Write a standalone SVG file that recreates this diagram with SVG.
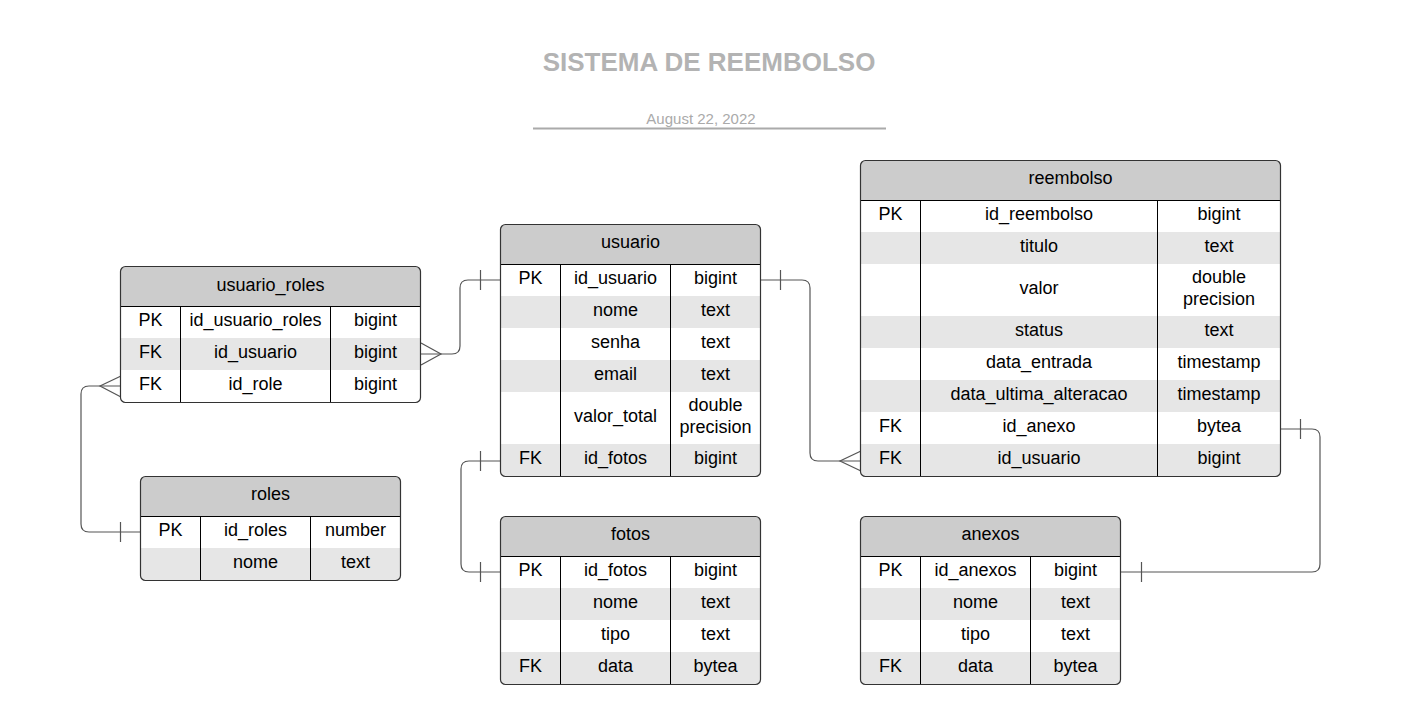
<svg xmlns="http://www.w3.org/2000/svg" width="1401" height="720" viewBox="0 0 1401 720">
<style>
text{font-family:"Liberation Sans",Arial,sans-serif;font-size:18px;fill:#000;text-anchor:middle}
.title{font-size:26px;font-weight:bold;fill:#b3b3b3}
.date{font-size:15px;fill:#aaaaaa}
.hdr{fill:#cccccc}
.alt{fill:#e6e6e6}
.bg{fill:#ffffff}
.grid{stroke:#000;stroke-width:1;fill:none}
.frame{stroke:#333;stroke-width:1.2;fill:none}
.conn path{stroke:#555;stroke-width:1.2;fill:none}
</style>
<defs>
<clipPath id="c-ur"><rect x="120.5" y="266.5" width="300" height="136" rx="5"/></clipPath>
<clipPath id="c-us"><rect x="500.5" y="224.5" width="260" height="252" rx="5"/></clipPath>
<clipPath id="c-re"><rect x="860.5" y="160.5" width="420" height="316" rx="5"/></clipPath>
<clipPath id="c-ro"><rect x="140.5" y="476.5" width="260" height="104" rx="5"/></clipPath>
<clipPath id="c-fo"><rect x="500.5" y="516.5" width="260" height="168" rx="5"/></clipPath>
<clipPath id="c-an"><rect x="860.5" y="516.5" width="260" height="168" rx="5"/></clipPath>
</defs>
<rect width="1401" height="720" fill="#ffffff"/>
<g id="title">
<text class="title" x="709" y="71">SISTEMA DE REEMBOLSO</text>
<text class="date" x="701" y="124">August 22, 2022</text>
<path d="M533,128.5 H886" stroke="#aaaaaa" stroke-width="2"/>
</g>

<g class="conn" id="connectors">
<path d="M420.5,354 H452 Q460,354 460,346 V288 Q460,280 468,280 H500.5"/>
<path d="M421,343 L441,354 L421,365"/>
<path d="M480.5,270 V290"/>
<path d="M120.5,386 H89 Q81,386 81,394 V524 Q81,532 89,532 H140.5"/>
<path d="M121,376 L100,386 L121,397"/>
<path d="M120.5,522 V542"/>
<path d="M760.5,280 H802 Q810,280 810,288 V453 Q810,461 818,461 H860.5"/>
<path d="M861,451 L840,461 L861,471"/>
<path d="M780.5,270 V290"/>
<path d="M500.5,461 H469 Q461,461 461,469 V564 Q461,572 469,572 H500.5"/>
<path d="M480.5,451 V471"/>
<path d="M480.5,562 V582"/>
<path d="M1280.5,429 H1312 Q1320,429 1320,437 V564 Q1320,572 1312,572 H1120.5"/>
<path d="M1300.5,419 V439"/>
<path d="M1141.5,562 V582"/>
</g>

<g id="usuario_roles">
<g clip-path="url(#c-ur)">
<rect class="bg" x="120" y="266" width="301" height="137"/>
<rect class="hdr" x="120" y="266" width="301" height="40"/>
<rect class="alt" x="120" y="338" width="301" height="32"/>
</g>
<path class="grid" d="M120.5,306.5 H420.5 M180.5,306.5 V402.5 M330.5,306.5 V402.5"/>
<rect class="frame" x="120.5" y="266.5" width="300" height="136" rx="5"/>
<text x="270.5" y="291">usuario_roles</text>
<text x="150.5" y="326">PK</text><text x="255.5" y="326">id_usuario_roles</text><text x="375.5" y="326">bigint</text>
<text x="150.5" y="358">FK</text><text x="255.5" y="358">id_usuario</text><text x="375.5" y="358">bigint</text>
<text x="150.5" y="390">FK</text><text x="255.5" y="390">id_role</text><text x="375.5" y="390">bigint</text>
</g>

<g id="usuario">
<g clip-path="url(#c-us)">
<rect class="bg" x="500" y="224" width="261" height="253"/>
<rect class="hdr" x="500" y="224" width="261" height="40"/>
<rect class="alt" x="500" y="296" width="261" height="32"/>
<rect class="alt" x="500" y="360" width="261" height="32"/>
<rect class="alt" x="500" y="444" width="261" height="33"/>
</g>
<path class="grid" d="M500.5,264.5 H760.5 M560.5,264.5 V476.5 M670.5,264.5 V476.5"/>
<rect class="frame" x="500.5" y="224.5" width="260" height="252" rx="5"/>
<text x="630.5" y="248">usuario</text>
<text x="530.5" y="284">PK</text><text x="615.5" y="284">id_usuario</text><text x="715.5" y="284">bigint</text>
<text x="615.5" y="316">nome</text><text x="715.5" y="316">text</text>
<text x="615.5" y="348">senha</text><text x="715.5" y="348">text</text>
<text x="615.5" y="380">email</text><text x="715.5" y="380">text</text>
<text x="615.5" y="422">valor_total</text><text x="715.5" y="411">double</text><text x="715.5" y="433">precision</text>
<text x="530.5" y="464">FK</text><text x="615.5" y="464">id_fotos</text><text x="715.5" y="464">bigint</text>
</g>

<g id="reembolso">
<g clip-path="url(#c-re)">
<rect class="bg" x="860" y="160" width="421" height="317"/>
<rect class="hdr" x="860" y="160" width="421" height="40"/>
<rect class="alt" x="860" y="232" width="421" height="32"/>
<rect class="alt" x="860" y="316" width="421" height="32"/>
<rect class="alt" x="860" y="380" width="421" height="32"/>
<rect class="alt" x="860" y="444" width="421" height="33"/>
</g>
<path class="grid" d="M860.5,200.5 H1280.5 M920.5,200.5 V476.5 M1157.5,200.5 V476.5"/>
<rect class="frame" x="860.5" y="160.5" width="420" height="316" rx="5"/>
<text x="1070.5" y="184">reembolso</text>
<text x="890.5" y="220">PK</text><text x="1039" y="220">id_reembolso</text><text x="1219" y="220">bigint</text>
<text x="1039" y="252">titulo</text><text x="1219" y="252">text</text>
<text x="1039" y="294">valor</text><text x="1219" y="283">double</text><text x="1219" y="305">precision</text>
<text x="1039" y="336">status</text><text x="1219" y="336">text</text>
<text x="1039" y="368">data_entrada</text><text x="1219" y="368">timestamp</text>
<text x="1039" y="400">data_ultima_alteracao</text><text x="1219" y="400">timestamp</text>
<text x="890.5" y="432">FK</text><text x="1039" y="432">id_anexo</text><text x="1219" y="432">bytea</text>
<text x="890.5" y="464">FK</text><text x="1039" y="464">id_usuario</text><text x="1219" y="464">bigint</text>
</g>

<g id="roles">
<g clip-path="url(#c-ro)">
<rect class="bg" x="140" y="476" width="261" height="105"/>
<rect class="hdr" x="140" y="476" width="261" height="40"/>
<rect class="alt" x="140" y="548" width="261" height="33"/>
</g>
<path class="grid" d="M140.5,516.5 H400.5 M200.5,516.5 V580.5 M310.5,516.5 V580.5"/>
<rect class="frame" x="140.5" y="476.5" width="260" height="104" rx="5"/>
<text x="270.5" y="500">roles</text>
<text x="170.5" y="536">PK</text><text x="255.5" y="536">id_roles</text><text x="355.5" y="536">number</text>
<text x="255.5" y="568">nome</text><text x="355.5" y="568">text</text>
</g>

<g id="fotos">
<g clip-path="url(#c-fo)">
<rect class="bg" x="500" y="516" width="261" height="169"/>
<rect class="hdr" x="500" y="516" width="261" height="40"/>
<rect class="alt" x="500" y="588" width="261" height="32"/>
<rect class="alt" x="500" y="652" width="261" height="33"/>
</g>
<path class="grid" d="M500.5,556.5 H760.5 M560.5,556.5 V684.5 M670.5,556.5 V684.5"/>
<rect class="frame" x="500.5" y="516.5" width="260" height="168" rx="5"/>
<text x="630.5" y="540">fotos</text>
<text x="530.5" y="576">PK</text><text x="615.5" y="576">id_fotos</text><text x="715.5" y="576">bigint</text>
<text x="615.5" y="608">nome</text><text x="715.5" y="608">text</text>
<text x="615.5" y="640">tipo</text><text x="715.5" y="640">text</text>
<text x="530.5" y="672">FK</text><text x="615.5" y="672">data</text><text x="715.5" y="672">bytea</text>
</g>

<g id="anexos">
<g clip-path="url(#c-an)">
<rect class="bg" x="860" y="516" width="261" height="169"/>
<rect class="hdr" x="860" y="516" width="261" height="40"/>
<rect class="alt" x="860" y="588" width="261" height="32"/>
<rect class="alt" x="860" y="652" width="261" height="33"/>
</g>
<path class="grid" d="M860.5,556.5 H1120.5 M920.5,556.5 V684.5 M1030.5,556.5 V684.5"/>
<rect class="frame" x="860.5" y="516.5" width="260" height="168" rx="5"/>
<text x="990.5" y="540">anexos</text>
<text x="890.5" y="576">PK</text><text x="975.5" y="576">id_anexos</text><text x="1075.5" y="576">bigint</text>
<text x="975.5" y="608">nome</text><text x="1075.5" y="608">text</text>
<text x="975.5" y="640">tipo</text><text x="1075.5" y="640">text</text>
<text x="890.5" y="672">FK</text><text x="975.5" y="672">data</text><text x="1075.5" y="672">bytea</text>
</g>
</svg>
